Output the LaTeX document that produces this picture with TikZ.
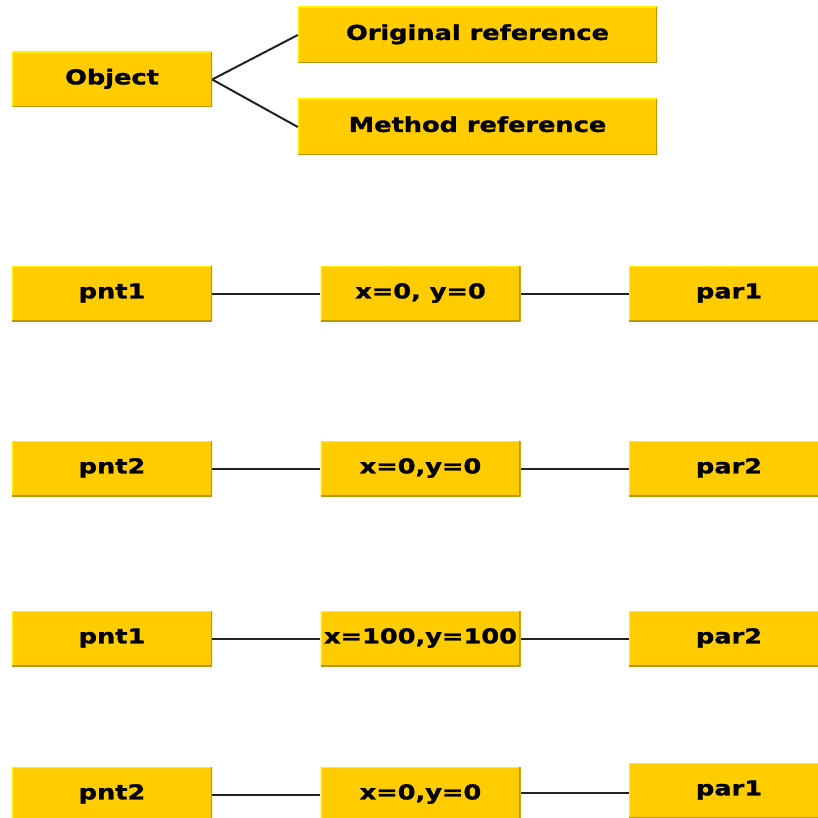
\documentclass[tikz,border=0pt]{standalone}
\usepackage{fontspec}
\setmainfont{DejaVu Sans}[FakeStretch=1.25, BoldFeatures={FakeBold=1.3}]
\definecolor{boxfill}{HTML}{FFCC00}
\definecolor{boxlight}{HTML}{FFF000}
\definecolor{boxdark}{HTML}{B89800}
\definecolor{wire}{HTML}{222222}
\tikzset{
  ybox/.style={fill=boxfill, inner sep=0pt, minimum height=55pt,
    text height=14.8pt, text depth=5pt,
    font=\fontsize{20.5}{24}\selectfont\bfseries,
    path picture={
      \draw[boxlight, line width=2.4pt]
        (path picture bounding box.south west) -- (path picture bounding box.north west)
        -- (path picture bounding box.north east);
      \draw[boxdark, line width=2.4pt]
        (path picture bounding box.north east) -- (path picture bounding box.south east)
        -- (path picture bounding box.south west);
    }},
  sbox/.style={ybox, minimum width=200pt},
  wbox/.style={ybox, minimum width=359pt, minimum height=56pt},
  wire/.style={draw=wire, line width=2pt}
}
\begin{document}
\begin{tikzpicture}[x=1pt, y=-1pt]
\useasboundingbox (0,0) rectangle (818,818);
% top group
\node[sbox] (obj) at (112,79.5) {Object};
\node[wbox] (orig) at (477.5,35) {Original reference};
\node[wbox] (meth) at (477.5,127) {Method reference};
\draw[wire] (obj.east) -- (orig.west);
\draw[wire] (obj.east) -- (meth.west);
% row 1
\node[sbox] (p1) at (112,293.5) {pnt1};
\node[sbox] (v1) at (420.5,293.5) {x=0, y=0};
\node[sbox] (q1) at (729,293.5) {par1};
\draw[wire] (p1.east) -- (v1.west);
\draw[wire] (v1.east) -- (q1.west);
% row 2
\node[sbox] (p2) at (112,468.5) {pnt2};
\node[sbox] (v2) at (420.5,468.5) {x=0,y=0};
\node[sbox] (q2) at (729,468.5) {par2};
\draw[wire] (p2.east) -- (v2.west);
\draw[wire] (v2.east) -- (q2.west);
% row 3
\node[sbox] (p3) at (112,638.5) {pnt1};
\node[sbox] (v3) at (420.5,638.5) {x=100,y=100};
\node[sbox] (q3) at (729,638.5) {par2};
\draw[wire] (p3.east) -- (v3.west);
\draw[wire] (v3.east) -- (q3.west);
% row 4
\node[sbox] (p4) at (112,794.5) {pnt2};
\node[sbox] (v4) at (420.5,794.5) {x=0,y=0};
\node[sbox] (q4) at (729,790.5) {par1};
\draw[wire] (p4.east) -- (v4.west);
\draw[wire] ([yshift=1.5pt]v4.east) -- ([yshift=1.5pt]v4.east -| q4.west);
\end{tikzpicture}
\end{document}
